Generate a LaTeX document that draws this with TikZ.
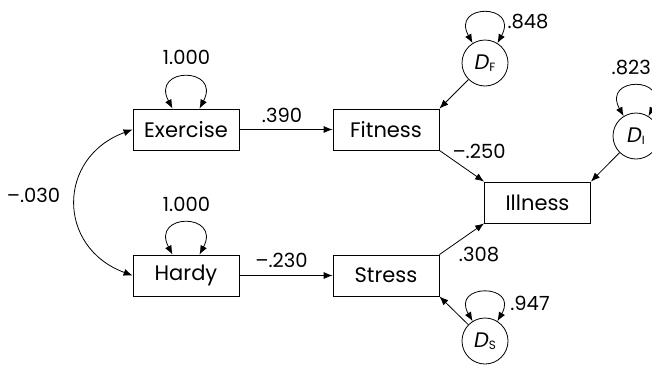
\documentclass[tikz,border=0pt]{standalone}
\usepackage{fontspec}
\setmainfont{Poppins}
\usetikzlibrary{arrows.meta}
\tikzset{
  varbox/.style={draw, line width=0.8pt, minimum width=106pt, minimum height=41pt, inner sep=0pt, font=\fontsize{21}{21}\selectfont},
  dist/.style={draw, circle, line width=0.8pt, minimum size=46pt, inner sep=0pt, font=\fontsize{21}{21}\selectfont},
  lab/.style={inner sep=0pt, font=\fontsize{19.5}{19.5}\selectfont},
  arr/.style={-{Latex[length=9pt,width=7pt]}, line width=0.8pt},
  dbl/.style={{Latex[length=9pt,width=7pt]}-{Latex[length=9pt,width=7pt]}, line width=0.8pt},
}
\newcommand{\dsub}[1]{\textit{D}{\fontsize{12}{12}\selectfont\raisebox{-1.5pt}{#1}}}
\begin{document}
\begin{tikzpicture}[x=1pt,y=-1pt]
\useasboundingbox (0,0) rectangle (652,367);
\node[varbox] (ex) at (186,129.5) {Exercise};
\node[varbox] (hd) at (186,275.5) {Hardy};
\node[varbox] (fit) at (386,129.5) {Fitness};
\node[varbox] (st) at (386,275.5) {Stress};
\node[varbox] (ill) at (537.5,202.5) {Illness};
\node[dist] (df) at (485,63) {\dsub{F}};
\node[dist] (di) at (636,136) {\dsub{I}};
\node[dist] (ds) at (485,341) {\dsub{S}};
% self loops
\draw[dbl] ([xshift=-13.5pt]ex.north) .. controls +(-22,-42) and +(22,-42) .. ([xshift=13.5pt]ex.north);
\draw[dbl] ([xshift=-13.5pt]hd.north) .. controls +(-22,-42) and +(22,-42) .. ([xshift=13.5pt]hd.north);
\draw[dbl] (df.122) .. controls +(-22,-40) and +(22,-40) .. (df.58);
\draw[dbl] (di.122) .. controls +(-22,-40) and +(22,-40) .. (di.58);
\draw[dbl] (ds.122) .. controls +(-22,-38) and +(22,-38) .. (ds.58);
% paths
\draw[arr] (ex) -- (fit);
\draw[arr] (hd) -- (st);
\draw[dbl] (ex.west) .. controls +(-76,28) and +(-76,-28) .. (hd.west);
\draw[arr] (df) -- (fit.north east);
\draw[arr] (fit.south east) -- (ill.north west);
\draw[arr] (st.north east) -- (ill.south west);
\draw[arr] (di) -- (ill.north east);
\draw[arr] (ds) -- (st.south east);
% labels
\node[lab] (l1) at (186.5,57) {1.000};
\node[lab] (l2) at (186.5,204) {1.000};
\node[lab] (l3) at (282,115) {.390};
\node[lab] (l4) at (281.5,260) {--.230};
\node[lab] (l5) at (33.5,195) {--.030};
\node[lab] (l6) at (528,22) {.848};
\node[lab, anchor=east] (l7) at (651,68) {.823};
\node[lab] (l8) at (479,151) {--.250};
\node[lab] (l9) at (479,255) {.308};
\node[lab] (l10) at (530,303) {.947};
\end{tikzpicture}
\end{document}
